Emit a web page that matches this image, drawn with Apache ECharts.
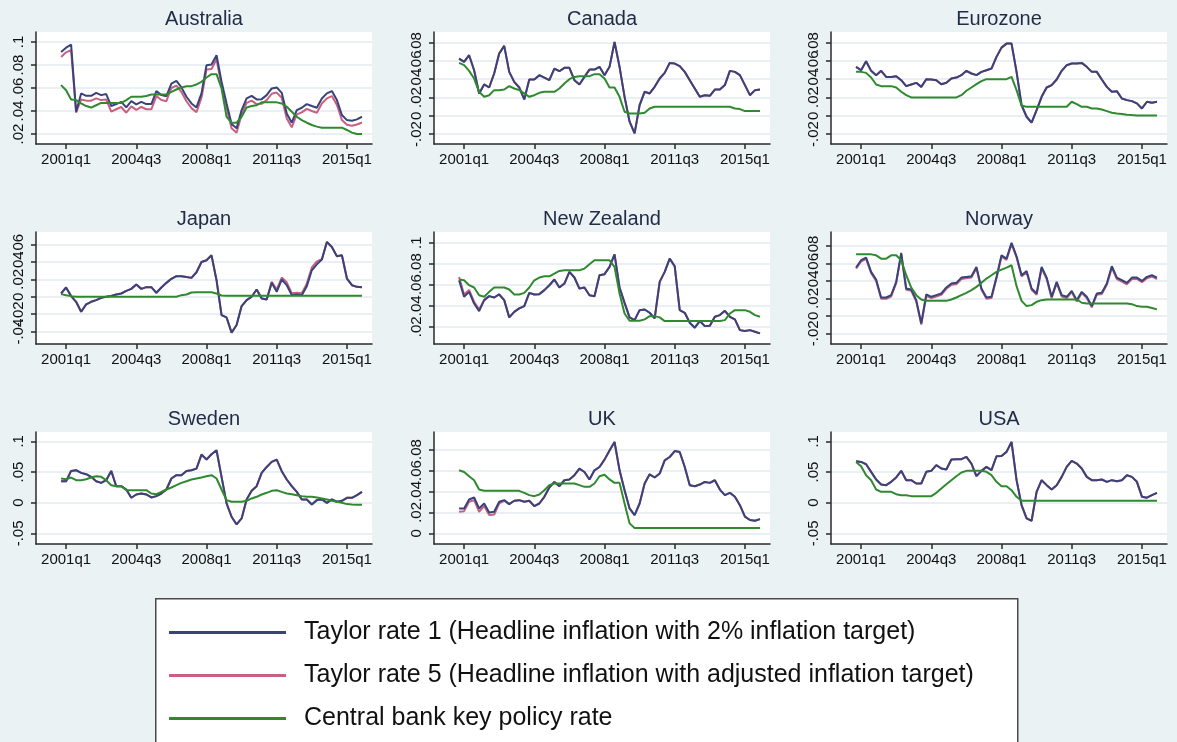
<!DOCTYPE html>
<html>
<head>
<meta charset="utf-8">
<title>Taylor rates and policy rates</title>
<script src="https://cdn.jsdelivr.net/npm/echarts@6/dist/echarts.min.js"></script>
<style>
  html, body { margin: 0; padding: 0; background: #eaf2f3; }
  #chart { width: 1177px; height: 742px; }
</style>
</head>
<body>
<div id="chart"></div>
<script>
// quarter index: 0 = 2001q1, every series starts in 2000q4
const firstQuarter = -1;
const xTickValues = [0, 14, 28, 42, 56];
const xTickLabels = ['2001q1', '2004q3', '2008q1', '2011q3', '2015q1'];
const seriesNames = [
  'Taylor rate 1 (Headline inflation with 2% inflation target)',
  'Taylor rate 5 (Headline inflation with adjusted inflation target)',
  'Central bank key policy rate'
];

// Australia
const ausTicks = [.02, .04, .06, .08, .1];
const ausT1 = [.0914,.0951,.0977,.0394,.0553,.0532,.0532,.0558,.0538,.0547,.0443,.0460,.0480,.0431,.0486,.0457,.0480,.0460,.0460,.0573,.0538,.0529,.0639,.0662,.0605,.0524,.0466,.0431,.0553,.0798,.0804,.0885,.0654,.0466,.0287,.0249,.0408,.0509,.0532,.0501,.0503,.0538,.0596,.0605,.0558,.0379,.0298,.0408,.0428,.0460,.0443,.0428,.0509,.0553,.0573,.0495,.0365,.0321,.0316,.0327,.0350];
const ausT5 = [.0870,.0910,.0930,.0385,.0500,.0490,.0490,.0510,.0495,.0500,.0395,.0415,.0435,.0385,.0440,.0410,.0435,.0415,.0415,.0530,.0495,.0485,.0600,.0620,.0565,.0485,.0425,.0390,.0515,.0760,.0765,.0850,.0620,.0430,.0250,.0210,.0370,.0470,.0490,.0460,.0462,.0495,.0550,.0560,.0515,.0335,.0258,.0370,.0388,.0418,.0400,.0385,.0465,.0510,.0530,.0452,.0322,.0280,.0272,.0283,.0300];
const ausCb = [.0625,.0580,.0500,.0495,.0466,.0443,.0430,.0450,.0470,.0470,.0470,.0470,.0470,.0495,.0524,.0524,.0524,.0530,.0544,.0544,.0544,.0544,.0567,.0587,.0605,.0616,.0616,.0631,.0654,.0691,.0720,.0720,.0596,.0350,.0298,.0298,.0350,.0430,.0443,.0450,.0475,.0475,.0475,.0475,.0466,.0437,.0394,.0350,.0321,.0298,.0278,.0264,.0255,.0255,.0255,.0255,.0255,.0235,.0212,.0200,.0200];

// Canada
const canTicks = [-.02, 0, .02, .04, .06, .08];
const canT1 = [.0625,.0589,.0662,.0498,.0244,.0342,.0309,.0462,.0680,.0764,.0480,.0371,.0309,.0178,.0396,.0396,.0444,.0418,.0389,.0516,.0487,.0524,.0524,.0389,.0342,.0425,.0505,.0505,.0535,.0444,.0535,.0807,.0535,.0207,-.0065,-.0193,.0116,.0262,.0244,.0316,.0407,.0469,.0578,.0571,.0542,.0480,.0389,.0298,.0207,.0225,.0218,.0287,.0287,.0335,.0491,.0480,.0444,.0335,.0225,.0280,.0287];
const canT5 = [.0625,.0589,.0662,.0498,.0244,.0342,.0309,.0462,.0680,.0764,.0480,.0371,.0309,.0178,.0396,.0396,.0444,.0418,.0389,.0516,.0487,.0524,.0524,.0389,.0342,.0425,.0505,.0505,.0535,.0444,.0535,.0807,.0535,.0207,-.0065,-.0193,.0116,.0262,.0244,.0316,.0407,.0469,.0578,.0571,.0542,.0480,.0389,.0298,.0207,.0225,.0218,.0287,.0287,.0335,.0491,.0480,.0444,.0335,.0225,.0280,.0287];
const canCb = [.0578,.0553,.0491,.0407,.0262,.0207,.0225,.0280,.0280,.0287,.0324,.0298,.0280,.0244,.0207,.0225,.0251,.0262,.0262,.0262,.0298,.0353,.0400,.0425,.0433,.0433,.0433,.0455,.0455,.0407,.0309,.0309,.0207,.0044,.0025,.0025,.0025,.0033,.0080,.0098,.0098,.0098,.0098,.0098,.0098,.0098,.0098,.0098,.0098,.0098,.0098,.0098,.0098,.0098,.0098,.0080,.0073,.0051,.0051,.0051,.0051];

// Eurozone
const eurTicks = [-.02, 0, .02, .04, .06, .08];
const eurT1 = [.0535,.0498,.0596,.0491,.0444,.0491,.0425,.0425,.0433,.0389,.0324,.0342,.0360,.0316,.0400,.0396,.0389,.0345,.0360,.0407,.0418,.0444,.0491,.0462,.0444,.0480,.0498,.0516,.0644,.0745,.0789,.0789,.0480,.0116,-.0011,-.0076,.0062,.0207,.0309,.0335,.0396,.0491,.0553,.0571,.0571,.0578,.0535,.0480,.0480,.0396,.0316,.0262,.0269,.0189,.0171,.0160,.0135,.0080,.0153,.0142,.0153];
const eurT5 = [.0535,.0498,.0596,.0491,.0444,.0491,.0425,.0425,.0433,.0389,.0324,.0342,.0360,.0316,.0400,.0396,.0389,.0345,.0360,.0407,.0418,.0444,.0491,.0462,.0444,.0480,.0498,.0516,.0644,.0745,.0789,.0789,.0480,.0116,-.0011,-.0076,.0062,.0207,.0309,.0335,.0396,.0491,.0553,.0571,.0571,.0578,.0535,.0480,.0480,.0396,.0316,.0262,.0269,.0189,.0171,.0160,.0135,.0080,.0153,.0142,.0153];
const eurCb = [.0480,.0480,.0469,.0418,.0342,.0324,.0324,.0324,.0309,.0262,.0225,.0200,.0200,.0200,.0200,.0200,.0200,.0200,.0200,.0200,.0200,.0225,.0273,.0309,.0345,.0378,.0400,.0400,.0400,.0400,.0400,.0425,.0280,.0110,.0098,.0098,.0098,.0098,.0098,.0098,.0098,.0098,.0098,.0153,.0127,.0098,.0098,.0080,.0080,.0069,.0051,.0033,.0025,.0018,.0011,.0007,.0004,.0004,.0004,.0004,.0004];

// Japan
const jpnTicks = [-.04, -.02, 0, .02, .04, .06];
const jpnT1 = [.0037,.0106,.0007,-.0058,-.0172,-.0088,-.0058,-.0039,-.0012,.0000,.0010,.0026,.0037,.0067,.0090,.0140,.0090,.0110,.0110,.0045,.0106,.0159,.0205,.0235,.0235,.0225,.0216,.0280,.0398,.0417,.0474,.0189,-.0210,-.0237,-.0411,-.0324,-.0107,-.0039,.0000,.0083,-.0020,-.0031,.0159,.0056,.0197,.0132,.0018,.0026,.0018,.0121,.0303,.0371,.0425,.0626,.0569,.0463,.0474,.0208,.0132,.0113,.0110];
const jpnT5 = [.0037,.0106,.0007,-.0058,-.0172,-.0088,-.0058,-.0039,-.0012,.0000,.0010,.0026,.0037,.0067,.0090,.0140,.0090,.0110,.0110,.0045,.0106,.0159,.0205,.0235,.0235,.0225,.0216,.0280,.0398,.0417,.0474,.0189,-.0210,-.0237,-.0411,-.0324,-.0107,-.0039,.0000,.0083,-.0020,-.0031,.0170,.0083,.0220,.0165,.0040,.0045,.0040,.0150,.0335,.0405,.0430,.0626,.0569,.0463,.0474,.0208,.0132,.0113,.0110];
const jpnCb = [.0030,.0018,.0007,.0000,.0000,.0000,.0000,.0000,.0000,.0000,.0000,.0000,.0000,.0000,.0000,.0000,.0000,.0000,.0000,.0000,.0000,.0000,.0000,.0000,.0018,.0026,.0049,.0052,.0052,.0052,.0052,.0037,.0014,.0010,.0010,.0010,.0010,.0010,.0010,.0010,.0010,.0010,.0010,.0010,.0010,.0010,.0010,.0010,.0010,.0010,.0010,.0010,.0010,.0010,.0010,.0010,.0010,.0010,.0010,.0010,.0010];

// New Zealand
const nzlTicks = [.02, .04, .06, .08, .1];
const nzlT1 = [.0642,.0485,.0532,.0421,.0349,.0453,.0491,.0478,.0507,.0453,.0289,.0342,.0374,.0396,.0522,.0507,.0510,.0548,.0595,.0649,.0573,.0611,.0722,.0668,.0563,.0573,.0500,.0491,.0690,.0700,.0769,.0889,.0573,.0427,.0289,.0263,.0358,.0364,.0333,.0279,.0627,.0722,.0848,.0775,.0358,.0333,.0238,.0191,.0254,.0206,.0210,.0295,.0311,.0352,.0295,.0270,.0168,.0159,.0168,.0153,.0137];
const nzlT5 = [.0674,.0507,.0550,.0437,.0365,.0453,.0491,.0478,.0507,.0453,.0289,.0342,.0374,.0396,.0522,.0507,.0510,.0548,.0595,.0649,.0573,.0611,.0722,.0668,.0563,.0573,.0500,.0491,.0690,.0700,.0769,.0889,.0573,.0427,.0289,.0263,.0358,.0364,.0333,.0279,.0627,.0722,.0848,.0775,.0358,.0333,.0238,.0191,.0254,.0206,.0210,.0295,.0311,.0352,.0295,.0270,.0168,.0159,.0168,.0153,.0137];
const nzlCb = [.0649,.0642,.0595,.0573,.0500,.0485,.0532,.0573,.0573,.0573,.0554,.0507,.0507,.0522,.0573,.0642,.0668,.0680,.0680,.0706,.0731,.0738,.0738,.0738,.0738,.0753,.0794,.0832,.0832,.0832,.0832,.0769,.0516,.0326,.0257,.0257,.0257,.0270,.0301,.0301,.0289,.0254,.0254,.0254,.0254,.0254,.0254,.0254,.0254,.0254,.0254,.0254,.0254,.0263,.0326,.0358,.0358,.0358,.0342,.0311,.0295];

// Norway
const norTicks = [-.02, 0, .02, .04, .06, .08];
const norT1 = [.0553,.0637,.0667,.0503,.0416,.0210,.0210,.0237,.0389,.0720,.0313,.0302,.0180,-.0086,.0245,.0218,.0237,.0256,.0325,.0370,.0378,.0438,.0446,.0454,.0560,.0313,.0210,.0218,.0446,.0693,.0655,.0837,.0682,.0465,.0514,.0313,.0256,.0560,.0438,.0218,.0389,.0237,.0218,.0286,.0180,.0275,.0218,.0112,.0256,.0264,.0370,.0568,.0438,.0408,.0378,.0438,.0438,.0400,.0446,.0465,.0438];
const norT5 = [.0540,.0622,.0652,.0488,.0400,.0195,.0195,.0222,.0375,.0705,.0298,.0288,.0165,-.0100,.0230,.0205,.0222,.0240,.0310,.0355,.0362,.0422,.0430,.0438,.0545,.0298,.0195,.0203,.0430,.0678,.0640,.0822,.0668,.0450,.0500,.0298,.0242,.0545,.0422,.0203,.0375,.0222,.0203,.0272,.0165,.0260,.0203,.0098,.0242,.0250,.0355,.0552,.0422,.0392,.0362,.0422,.0422,.0385,.0430,.0450,.0422];
const norCb = [.0704,.0704,.0704,.0704,.0693,.0655,.0655,.0693,.0693,.0636,.0465,.0324,.0237,.0188,.0172,.0172,.0172,.0172,.0172,.0188,.0210,.0237,.0264,.0294,.0332,.0378,.0427,.0465,.0503,.0530,.0553,.0579,.0340,.0172,.0112,.0123,.0161,.0180,.0188,.0188,.0188,.0188,.0188,.0188,.0188,.0150,.0142,.0142,.0142,.0142,.0142,.0142,.0142,.0142,.0142,.0134,.0112,.0104,.0104,.0090,.0074];

// Sweden
const sweTicks = [-.05, 0, .05, .1];
const sweT1 = [.0350,.0350,.0518,.0529,.0486,.0464,.0421,.0350,.0323,.0367,.0518,.0269,.0269,.0215,.0080,.0134,.0150,.0134,.0085,.0107,.0150,.0215,.0394,.0448,.0448,.0518,.0529,.0556,.0784,.0703,.0789,.0854,.0421,-.0012,-.0229,-.0354,-.0256,.0053,.0193,.0269,.0486,.0583,.0665,.0703,.0513,.0378,.0269,.0177,.0053,.0053,-.0029,.0042,.0053,-.0002,.0053,.0015,.0031,.0080,.0080,.0123,.0177];
const sweT5 = [.0350,.0350,.0518,.0529,.0486,.0464,.0421,.0350,.0323,.0367,.0518,.0269,.0269,.0215,.0080,.0134,.0150,.0134,.0085,.0107,.0150,.0215,.0394,.0448,.0448,.0518,.0529,.0556,.0784,.0703,.0789,.0854,.0421,-.0012,-.0229,-.0354,-.0256,.0053,.0193,.0269,.0486,.0583,.0665,.0703,.0513,.0378,.0269,.0177,.0053,.0053,-.0029,.0042,.0053,-.0002,.0053,.0015,.0031,.0080,.0080,.0123,.0177];
const sweCb = [.0394,.0383,.0410,.0367,.0367,.0383,.0410,.0432,.0421,.0367,.0285,.0269,.0269,.0204,.0204,.0204,.0204,.0204,.0150,.0139,.0177,.0215,.0248,.0285,.0323,.0350,.0378,.0394,.0410,.0432,.0448,.0394,.0215,.0042,.0015,.0015,.0015,.0031,.0069,.0096,.0134,.0161,.0193,.0204,.0177,.0150,.0139,.0123,.0107,.0096,.0096,.0085,.0069,.0053,.0031,.0015,-.0002,-.0023,-.0029,-.0034,-.0034];

// UK
const gbrTicks = [0, .02, .04, .06, .08];
const gbrT1 = [.0238,.0238,.0323,.0342,.0238,.0285,.0200,.0206,.0301,.0317,.0279,.0311,.0317,.0301,.0311,.0260,.0285,.0349,.0437,.0491,.0450,.0507,.0514,.0555,.0618,.0586,.0514,.0602,.0634,.0704,.0792,.0872,.0602,.0412,.0238,.0174,.0285,.0476,.0564,.0533,.0571,.0697,.0729,.0786,.0777,.0634,.0460,.0450,.0466,.0491,.0482,.0507,.0418,.0365,.0387,.0349,.0269,.0159,.0127,.0120,.0136];
const gbrT5 = [.0206,.0212,.0301,.0317,.0206,.0260,.0174,.0180,.0285,.0311,.0279,.0311,.0317,.0301,.0311,.0260,.0285,.0349,.0437,.0491,.0450,.0507,.0514,.0555,.0618,.0586,.0514,.0602,.0634,.0704,.0792,.0872,.0602,.0412,.0238,.0174,.0285,.0476,.0564,.0533,.0571,.0697,.0729,.0786,.0777,.0634,.0460,.0450,.0466,.0491,.0482,.0507,.0418,.0365,.0387,.0349,.0269,.0159,.0127,.0120,.0136];
const gbrCb = [.0602,.0586,.0545,.0507,.0418,.0406,.0406,.0406,.0406,.0406,.0406,.0406,.0406,.0387,.0365,.0355,.0371,.0412,.0460,.0476,.0476,.0476,.0476,.0476,.0460,.0444,.0444,.0476,.0545,.0560,.0515,.0482,.0482,.0285,.0095,.0051,.0051,.0051,.0051,.0051,.0051,.0051,.0051,.0051,.0051,.0051,.0051,.0051,.0051,.0051,.0051,.0051,.0051,.0051,.0051,.0051,.0051,.0051,.0051,.0051,.0051];

// USA
const usaTicks = [-.05, 0, .05, .1];
const usaT1 = [.0676,.0665,.0627,.0503,.0378,.0296,.0286,.0340,.0411,.0519,.0367,.0367,.0313,.0313,.0503,.0519,.0611,.0557,.0540,.0703,.0709,.0709,.0747,.0638,.0432,.0519,.0584,.0530,.0757,.0762,.0828,.0990,.0367,-.0038,-.0255,-.0294,.0177,.0367,.0286,.0215,.0286,.0421,.0584,.0681,.0638,.0557,.0421,.0367,.0367,.0378,.0340,.0367,.0351,.0367,.0448,.0421,.0340,.0098,.0081,.0123,.0161];
const usaT5 = [.0676,.0665,.0627,.0503,.0378,.0296,.0286,.0340,.0411,.0519,.0367,.0367,.0313,.0313,.0503,.0519,.0611,.0557,.0540,.0703,.0709,.0709,.0747,.0638,.0432,.0519,.0584,.0530,.0757,.0762,.0828,.0990,.0367,-.0038,-.0255,-.0294,.0177,.0367,.0286,.0215,.0286,.0421,.0584,.0681,.0638,.0557,.0421,.0367,.0367,.0378,.0340,.0367,.0351,.0367,.0448,.0421,.0340,.0098,.0081,.0123,.0161];
const usaCb = [.0665,.0594,.0448,.0367,.0215,.0177,.0177,.0177,.0139,.0123,.0123,.0107,.0107,.0107,.0107,.0107,.0161,.0232,.0302,.0367,.0432,.0492,.0519,.0519,.0519,.0519,.0503,.0448,.0340,.0269,.0269,.0204,.0096,.0031,.0031,.0031,.0031,.0031,.0031,.0031,.0031,.0031,.0031,.0031,.0031,.0031,.0031,.0031,.0031,.0031,.0031,.0031,.0031,.0031,.0031,.0031,.0031,.0031,.0031,.0031,.0031];

// layout of the 3x3 panels (pixels) and y ranges
const panels = [
  { title: 'Australia',   t1: ausT1, t5: ausT5, cb: ausCb, ticks: ausTicks, min: .0113, max: .1087, left: 36,  top: 32 },
  { title: 'Canada',      t1: canT1, t5: canT5, cb: canCb, ticks: canTicks, min: -.0309, max: .0916, left: 434, top: 32 },
  { title: 'Eurozone',    t1: eurT1, t5: eurT5, cb: eurCb, ticks: eurTicks, min: -.0309, max: .0916, left: 831, top: 32 },
  { title: 'Japan',       t1: jpnT1, t5: jpnT5, cb: jpnCb, ticks: jpnTicks, min: -.0541, max: .0741, left: 36,  top: 232 },
  { title: 'New Zealand', t1: nzlT1, t5: nzlT5, cb: nzlCb, ticks: nzlTicks, min: .0036, max: .1101, left: 434, top: 232 },
  { title: 'Norway',      t1: norT1, t5: norT5, cb: norCb, ticks: norTicks, min: -.0322, max: .0960, left: 831, top: 232 },
  { title: 'Sweden',      t1: sweT1, t5: sweT5, cb: sweCb, ticks: sweTicks, min: -.0673, max: .1152, left: 36,  top: 432 },
  { title: 'UK',          t1: gbrT1, t5: gbrT5, cb: gbrCb, ticks: gbrTicks, min: -.0102, max: .0968, left: 434, top: 432 },
  { title: 'USA',         t1: usaT1, t5: usaT5, cb: usaCb, ticks: usaTicks, min: -.0673, max: .1152, left: 831, top: 432 }
];

const plotW = 336, plotH = 112;
const colT1 = '#37437a', colT5 = '#c8617f', colCb = '#2f8a2f';
const font = 'Liberation Sans, Arial, Helvetica, sans-serif';
const axisCol = '#2a2a2a';

function toPoints(arr) {
  return arr.map((v, i) => [firstQuarter + i, v]);
}
// stata style labels: .02, -.05, 0
function stataLabel(v) {
  return String(Math.round(v * 10000) / 10000).replace('0.', '.');
}

const grid = [], xAxis = [], yAxis = [], series = [], title = [];

panels.forEach((p, k) => {
  grid.push({
    left: p.left, top: p.top, width: plotW, height: plotH,
    show: true, backgroundColor: '#ffffff', borderWidth: 0,
    containLabel: false, outerBoundsMode: 'none'
  });
  title.push({
    text: p.title, left: p.left + plotW / 2, top: p.top - 23,
    textAlign: 'center', padding: 0,
    textStyle: { fontFamily: font, fontSize: 20, fontWeight: 'normal', color: '#222c48' }
  });
  xAxis.push({
    type: 'value', gridIndex: k, min: -6, max: 61,
    axisLine: { show: true, onZero: false, lineStyle: { color: axisCol, width: 1.5 } },
    axisTick: { show: true, customValues: xTickValues, length: 5, lineStyle: { color: axisCol, width: 1.5 } },
    axisLabel: {
      customValues: xTickValues, margin: 8, hideOverlap: false,
      formatter: v => xTickLabels[xTickValues.indexOf(v)],
      fontFamily: font, fontSize: 15, color: '#111'
    },
    splitLine: { show: false }
  });
  // the empty end labels keep echarts from dropping crowded real labels
  yAxis.push({
    type: 'value', gridIndex: k, min: p.min, max: p.max,
    axisLine: { show: true, onZero: false, lineStyle: { color: axisCol, width: 1.5 } },
    axisTick: { show: true, customValues: p.ticks, length: 5, lineStyle: { color: axisCol, width: 1.5 } },
    axisLabel: {
      customValues: [p.min].concat(p.ticks, [p.max]), rotate: 90, margin: 10, hideOverlap: false,
      showMinLabel: false, showMaxLabel: false,
      formatter: v => (v === p.min || v === p.max) ? '' : stataLabel(v),
      fontFamily: font, fontSize: 15, color: '#111'
    },
    splitLine: { show: true, lineStyle: { color: '#e2eaee', width: 1.5 } }
  });

  const lines = [
    [seriesNames[1], p.t5, colT5, 2],
    [seriesNames[0], p.t1, colT1, 3],
    [seriesNames[2], p.cb, colCb, 4]
  ];
  lines.forEach(([name, arr, c, z]) => {
    series.push({
      type: 'line', name: name, xAxisIndex: k, yAxisIndex: k,
      data: toPoints(arr), showSymbol: false, symbol: 'none', z: z,
      itemStyle: { color: c }, lineStyle: { color: c, width: 2 },
      emphasis: { disabled: true }
    });
  });
});

const chart = echarts.init(document.getElementById('chart'), null, { renderer: 'canvas' });
chart.setOption({
  backgroundColor: '#eaf2f3',
  animation: false,
  title: title,
  grid: grid,
  xAxis: xAxis,
  yAxis: yAxis,
  series: series,
  legend: {
    data: [seriesNames[0], seriesNames[1], seriesNames[2]],
    orient: 'vertical', left: 169, top: 619, padding: 0,
    icon: 'rect', itemWidth: 117, itemHeight: 3, itemGap: 16,
    selectedMode: false, z: 5,
    textStyle: { fontFamily: font, fontSize: 25, lineHeight: 27, color: '#111', padding: [0, 0, 0, 13] }
  },
  graphic: [{
    type: 'rect', left: 155, top: 598, z: 1,
    shape: { width: 862, height: 200 },
    style: { fill: '#ffffff', stroke: '#4a4a4a', lineWidth: 1.5 }
  }]
});
</script>
</body>
</html>
